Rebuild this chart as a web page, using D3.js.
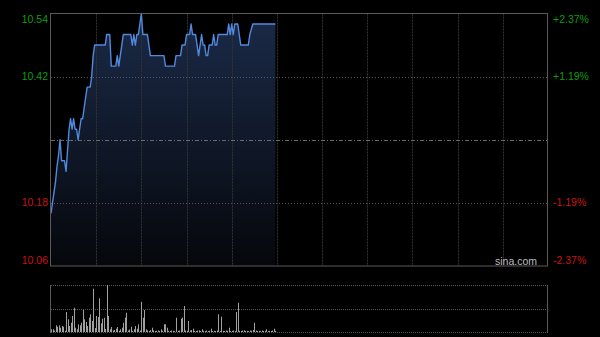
<!DOCTYPE html>
<html>
<head>
<meta charset="utf-8">
<script src="https://cdn.jsdelivr.net/npm/d3@7"></script>
<style>
  html, body { margin: 0; padding: 0; background: #000; }
  svg { display: block; }
</style>
</head>
<body>
<div id="chart"></div>
<script>
// one value per minute, 9:30 -> 11:59
const prices = [
  10.16, 10.18, 10.20, 10.22, 10.25, 10.27, 10.30, 10.26, 10.26, 10.26,
  10.24, 10.28, 10.32, 10.34, 10.32, 10.34, 10.32, 10.32, 10.30, 10.32,
  10.34, 10.34, 10.36, 10.38, 10.40, 10.40, 10.40, 10.42, 10.46, 10.48,
  10.48, 10.48, 10.48, 10.48, 10.48, 10.48, 10.48, 10.50, 10.50, 10.50,
  10.44, 10.44, 10.44, 10.44, 10.46, 10.44, 10.46, 10.48, 10.50, 10.50,
  10.50, 10.50, 10.50, 10.50, 10.48, 10.50, 10.48, 10.50, 10.50, 10.52,
  10.54, 10.50, 10.50, 10.50, 10.50, 10.48, 10.46, 10.46, 10.46, 10.46,
  10.46, 10.46, 10.46, 10.46, 10.46, 10.46, 10.44, 10.44, 10.44, 10.44,
  10.44, 10.44, 10.44, 10.46, 10.46, 10.46, 10.46, 10.48, 10.48, 10.48,
  10.50, 10.50, 10.50, 10.52, 10.50, 10.50, 10.50, 10.48, 10.46, 10.48,
  10.50, 10.48, 10.48, 10.46, 10.46, 10.48, 10.48, 10.48, 10.50, 10.48,
  10.48, 10.50, 10.50, 10.50, 10.50, 10.50, 10.50, 10.50, 10.52, 10.50,
  10.52, 10.50, 10.52, 10.52, 10.52, 10.50, 10.48, 10.48, 10.48, 10.48,
  10.48, 10.48, 10.50, 10.51, 10.52, 10.52, 10.52, 10.52, 10.52, 10.52,
  10.52, 10.52, 10.52, 10.52, 10.52, 10.52, 10.52, 10.52, 10.52, 10.52
]

const volumes = [
  27, 27, 15, 67, 53, 67, 43, 60, 53, 12,
  200, 127, 60, 93, 160, 243, 43, 27, 77, 67,
  93, 220, 127, 100, 60, 143, 177, 110, 433, 40,
  160, 150, 337, 87, 133, 143, 30, 470, 160, 27,
  50, 15, 20, 33, 50, 12, 27, 43, 93, 143,
  193, 15, 27, 53, 12, 27, 60, 33, 77, 15,
  303, 143, 220, 27, 17, 10, 20, 43, 17, 10,
  12, 17, 10, 27, 12, 77, 77, 43, 12, 10,
  15, 12, 10, 143, 12, 15, 133, 143, 260, 15,
  12, 110, 15, 20, 33, 12, 10, 15, 17, 10,
  27, 12, 10, 15, 10, 12, 33, 10, 12, 10,
  15, 177, 10, 153, 12, 10, 15, 12, 43, 10,
  12, 15, 10, 200, 293, 12, 10, 15, 17, 10,
  12, 10, 15, 12, 20, 93, 15, 10, 12, 10,
  15, 10, 12, 27, 10, 12, 10, 15, 33, 12
]

const priceTicks = [10.06, 10.18, 10.30, 10.42, 10.54]
const pctLabels = ["-2.37%", "-1.19%", "", "+1.19%", "+2.37%"]
const gridMinutes = [30, 60, 90, 120, 150, 180, 210, 240, 270, 300]
const sessionMinutes = 330

const width = 600
const height = 337
const main = { left: 51, right: 548, top: 13.5, bottom: 266 }
const vol = { top: 285, bottom: 332 }

const svg = d3
  .select("#chart")
  .append("svg")
  .attr("width", width)
  .attr("height", height)
  .style("background", "#000")

const x = d3
  .scaleLinear()
  .domain([0, sessionMinutes])
  .range([main.left, main.right])

const y = d3
  .scaleLinear()
  .domain([10.06, 10.54])
  .range([main.bottom, main.top])

const yVol = d3
  .scaleLinear()
  .domain([0, d3.max(volumes)])
  .range([vol.bottom, vol.top])

const defs = svg.append("defs")
const grad = defs
  .append("linearGradient")
  .attr("id", "areaFill")
  .attr("gradientUnits", "userSpaceOnUse")
  .attr("x1", 0)
  .attr("x2", 0)
  .attr("y1", main.top)
  .attr("y2", main.bottom)
grad.append("stop").attr("offset", 0).attr("stop-color", "#1b2a48")
grad.append("stop").attr("offset", 1).attr("stop-color", "#05070b")

// area + line
const area = d3
  .area()
  .x((d, i) => x(i))
  .y0(main.bottom)
  .y1((d) => y(d))

const line = d3
  .line()
  .x((d, i) => x(i))
  .y((d) => y(d))

svg.append("path").datum(prices).attr("d", area).attr("fill", "url(#areaFill)")

// vertical grid
svg
  .append("g")
  .selectAll("line")
  .data(gridMinutes)
  .enter()
  .append("line")
  .attr("x1", (d) => Math.round(x(d)) + 0.5)
  .attr("x2", (d) => Math.round(x(d)) + 0.5)
  .attr("y1", main.top)
  .attr("y2", main.bottom)
  .attr("stroke", "#333")
  .attr("stroke-dasharray", "2,1")

// horizontal grid
svg
  .append("g")
  .selectAll("line")
  .data(priceTicks.slice(1, -1))
  .enter()
  .append("line")
  .attr("x1", main.left)
  .attr("x2", main.right)
  .attr("y1", (d) => Math.round(y(d)) + 0.5)
  .attr("y2", (d) => Math.round(y(d)) + 0.5)
  .attr("stroke", (d) => (d === 10.3 ? "#6a6a6a" : "#555"))
  .attr("stroke-dasharray", (d) => (d === 10.3 ? "4,2,1,2" : "1,2"))

svg
  .append("path")
  .datum(prices)
  .attr("d", line)
  .attr("fill", "none")
  .attr("stroke", "#5089de")
  .attr("stroke-width", 1.4)
  .attr("stroke-linejoin", "round")

// frame
svg
  .append("rect")
  .attr("x", main.left - 0.5)
  .attr("y", main.top)
  .attr("width", main.right - main.left)
  .attr("height", main.bottom - main.top)
  .attr("fill", "none")
  .attr("stroke", "#5a5a5a")

// price labels
const labelFont = "'Liberation Sans', Arial, sans-serif"
const labelY = (d, i) =>
  i === 0 ? y(d) - 2.5 : i === priceTicks.length - 1 ? y(d) + 9 : y(d) + 3.5

svg
  .append("g")
  .selectAll("text")
  .data(priceTicks)
  .enter()
  .filter((d) => d !== 10.3)
  .append("text")
  .attr("x", main.left - 3)
  .attr("y", (d) => labelY(d, priceTicks.indexOf(d)))
  .attr("text-anchor", "end")
  .attr("font-family", labelFont)
  .attr("font-size", "10.5px")
  .attr("fill", (d) => (d > 10.3 ? "#0a9f0a" : "#c81414"))
  .text((d) => d.toFixed(2))

svg
  .append("g")
  .selectAll("text")
  .data(priceTicks)
  .enter()
  .filter((d) => d !== 10.3)
  .append("text")
  .attr("x", main.right + 5)
  .attr("y", (d) => labelY(d, priceTicks.indexOf(d)))
  .attr("text-anchor", "start")
  .attr("font-family", labelFont)
  .attr("font-size", "10.5px")
  .attr("fill", (d) => (d > 10.3 ? "#0a9f0a" : "#c81414"))
  .text((d) => pctLabels[priceTicks.indexOf(d)])

svg
  .append("text")
  .attr("x", 537)
  .attr("y", 265)
  .attr("text-anchor", "end")
  .attr("font-family", labelFont)
  .attr("font-size", "10.5px")
  .attr("fill", "#bdbdbd")
  .text("sina.com")

// volume panel
const volG = svg.append("g")
volG
  .selectAll("line.grid")
  .data([vol.top, (vol.top + vol.bottom) / 2, vol.bottom])
  .enter()
  .append("line")
  .attr("x1", main.left)
  .attr("x2", main.right)
  .attr("y1", (d) => Math.round(d) + 0.5)
  .attr("y2", (d) => Math.round(d) + 0.5)
  .attr("stroke", "#555")
  .attr("stroke-dasharray", "1,1")

volG
  .selectAll("line.side")
  .data([main.left - 0.5, main.right - 0.5])
  .enter()
  .append("line")
  .attr("x1", (d) => d)
  .attr("x2", (d) => d)
  .attr("y1", vol.top)
  .attr("y2", vol.bottom + 1)
  .attr("stroke", "#5a5a5a")

volG
  .selectAll("rect")
  .data(volumes)
  .enter()
  .append("rect")
  .attr("x", (d, i) => Math.round(x(i)))
  .attr("width", 1)
  .attr("y", (d) => yVol(d))
  .attr("height", (d) => vol.bottom - yVol(d))
  .attr("fill", "#a0a0a0")
</script>
</body>
</html>
